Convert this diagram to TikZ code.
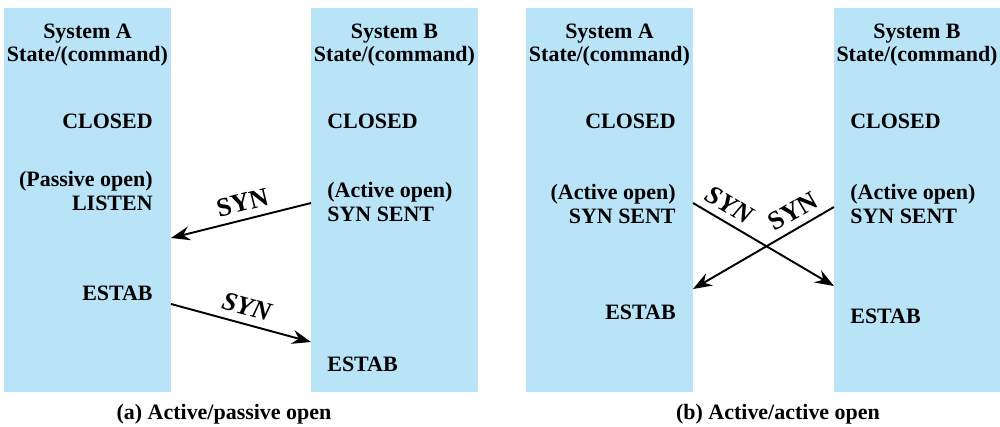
\documentclass[tikz,border=0pt]{standalone}
\usepackage{fontspec}
\newfontfamily\tnr{Liberation Serif}
\usepackage{tikz}
\usetikzlibrary{arrows.meta, positioning}

\definecolor{sysblue}{RGB}{185,228,248}

\begin{document}
\begin{tikzpicture}[
  x=0.02cm, y=-0.02cm,
  column/.style={fill=sysblue, draw=none},
  head/.style={font=\tnr\bfseries\fontsize{12.5}{13.5}\selectfont, align=center, inner sep=0pt},
  state/.style={font=\tnr\bfseries\fontsize{12.5}{13.5}\selectfont, inner sep=0pt},
  lstate/.style={state, anchor=west, align=left},
  rstate/.style={state, anchor=east, align=right},
  msg/.style={font=\tnr\bfseries\fontsize{15}{15}\selectfont, inner sep=0pt, sloped, above=4pt},
  imsg/.style={msg, font=\tnr\bfseries\itshape\fontsize{15}{15}\selectfont},
  arrow/.style={-{Stealth[length=3.8mm, width=2.8mm, inset=1.3mm]}, line width=1.1pt},
  caption/.style={font=\tnr\bfseries\fontsize{12.5}{13.5}\selectfont, inner sep=0pt}
]
\useasboundingbox (0,0) rectangle (1000,426);

% (a) active/passive open
\fill[column] (4,8) rectangle (171,392);
\fill[column] (311,8) rectangle (478,392);

\node[head] (hA1) at (87.5,45) {System A\\State/(command)};
\node[head] (hB1) at (394.5,45) {System B\\State/(command)};

\node[rstate] (closedA1) at (153,121) {CLOSED};
\node[rstate] (listenA1) at (153,191) {(Passive open)\\LISTEN};
\node[rstate] (estabA1) at (153,293) {ESTAB};

\node[lstate] (closedB1) at (327,121) {CLOSED};
\node[lstate] (sentB1) at (327,202) {(Active open)\\SYN SENT};
\node[lstate] (estabB1) at (327,364) {ESTAB};

\coordinate (b1out) at (311,203);
\coordinate (a1in) at (171,238);
\coordinate (a1out) at (171,304);
\coordinate (b1in) at (311,342);

\draw[arrow] (b1out) -- node[msg, pos=0.46] {SYN} (a1in);
\draw[arrow] (a1out) -- node[imsg, pos=0.51] {SYN} (b1in);

\node[caption] (capA) at (224,414) {(a) Active/passive open};

% (b) active/active open
\fill[column] (526,8) rectangle (693,392);
\fill[column] (834,8) rectangle (1000,392);

\node[head] (hA2) at (609.5,45) {System A\\State/(command)};
\node[head] (hB2) at (917,45) {System B\\State/(command)};

\node[rstate] (closedA2) at (676,121) {CLOSED};
\node[rstate] (sentA2) at (676,204) {(Active open)\\SYN SENT};
\node[rstate] (estabA2) at (676,312) {ESTAB};

\node[lstate] (closedB2) at (850,121) {CLOSED};
\node[lstate] (sentB2) at (850,204) {(Active open)\\SYN SENT};
\node[lstate] (estabB2) at (850,316) {ESTAB};

\coordinate (a2out) at (693,203);
\coordinate (b2in) at (834,286);
\coordinate (b2out) at (834,207);
\coordinate (a2in) at (693,289);

\draw[arrow] (a2out) -- node[imsg, pos=0.2] {SYN} (b2in);
\draw[arrow] (b2out) -- node[msg, pos=0.23] {SYN} (a2in);

\node[caption] (capB) at (778,414) {(b) Active/active open};
\end{tikzpicture}
\end{document}
